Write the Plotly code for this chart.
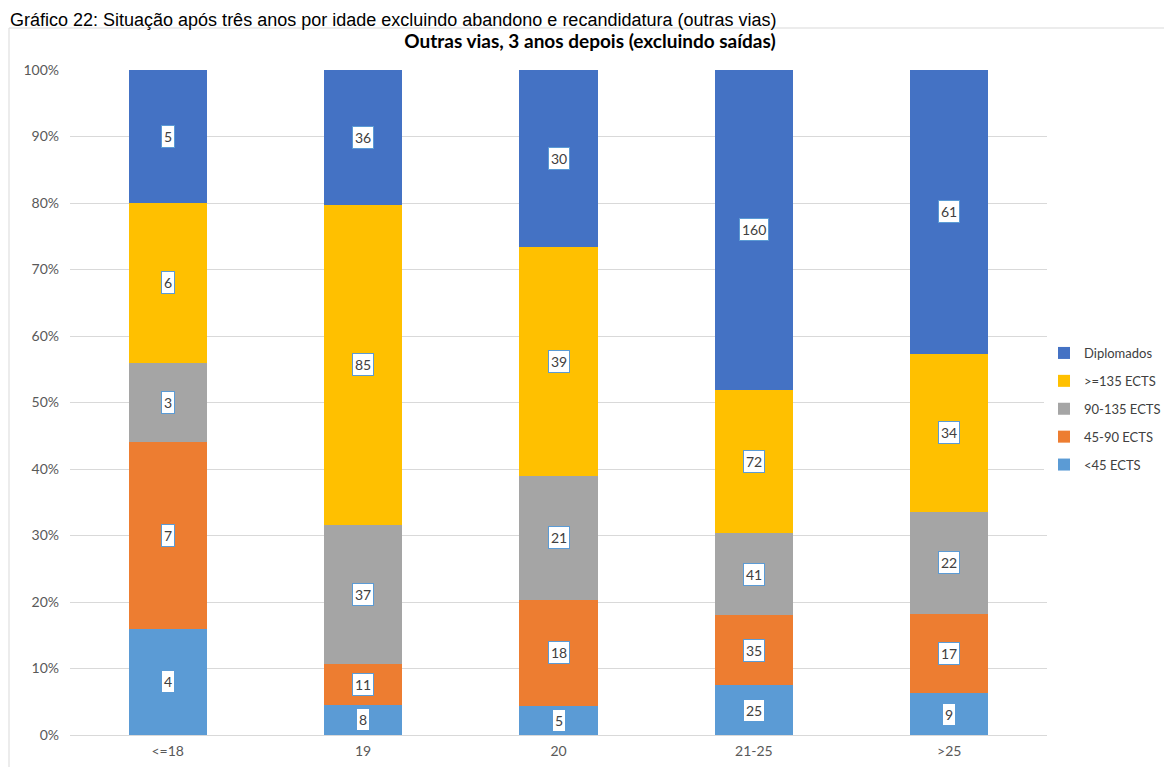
import plotly.graph_objects as go
import numpy as np

categories = ["<=18", "19", "20", "21-25", ">25"]

series_names = ["<45 ECTS", "45-90 ECTS", "90-135 ECTS", ">=135 ECTS", "Diplomados"]
lt45 = [4, 8, 5, 25, 9]
e45_90 = [7, 11, 18, 35, 17]
e90_135 = [3, 37, 21, 41, 22]
ge135 = [6, 85, 39, 72, 34]
diplomados = [5, 36, 30, 160, 61]

colors = ["#5B9BD5", "#ED7D31", "#A5A5A5", "#FFC000", "#4472C4"]

series = [lt45, e45_90, e90_135, ge135, diplomados]

font_main = "Lato, 'Open Sans', sans-serif"

# the page body adds an 8px offset, so the margins are set in figure pixels
L, R, T, B = 62, 133, 62, 40
W, H = 1172, 767
PW, PH = W - L - R, H - T - B

fig = go.Figure()
for i, (name, vals, col) in enumerate(zip(series_names, series, colors)):
    fig.add_trace(go.Bar(
        x=categories,
        y=vals,
        name=name,
        marker_color=col,
        marker_line_width=0,
        legendgroup=name,
        legendrank=len(series) - i,
    ))

# data labels in white boxes, placed at the middle of each segment
data = np.array(series, dtype=float)
totals = data.sum(axis=0)
pct = data / totals * 100
cum = np.cumsum(pct, axis=0)
mid = cum - pct / 2
annotations = []
for i in range(len(series)):
    for j in range(len(categories)):
        annotations.append(dict(
            x=j, y=mid[i, j], xref="x", yref="y",
            text=str(series[i][j]), showarrow=False,
            font=dict(family=font_main, size=14, color="#404040"),
            bgcolor="white", bordercolor="#5B9BD5", borderwidth=1, borderpad=2,
        ))

# caption at the very top of the picture
annotations.append(dict(
    x=-L / PW, y=(H - B) / PH, xref="paper", yref="paper",
    xanchor="left", yanchor="top", showarrow=False,
    text="Gráfico 22: Situação após três anos por idade excluindo abandono e recandidatura (outras vias)",
    font=dict(family="Liberation Sans, Arial, sans-serif", size=18, color="#000000"),
))

fig.update_layout(
    barmode="stack",
    barnorm="percent",
    bargap=0.6,
    width=W,
    height=H,
    margin=dict(l=L, r=R, t=T, b=B, autoexpand=False),
    paper_bgcolor="white",
    plot_bgcolor="white",
    font=dict(family=font_main, size=14, color="#595959"),
    title=dict(
        text="<b>Outras vias, 3 anos depois (excluindo saídas)</b>",
        x=582 / W, xanchor="center",
        y=1 - 33 / H, yanchor="middle",
        font=dict(family=font_main, size=19, color="#000000"),
    ),
    xaxis=dict(type="category", showgrid=False, showline=False, ticks="",
               tickfont=dict(size=14, color="#595959"), ticklabelstandoff=6),
    yaxis=dict(
        range=[0, 100], dtick=10, ticksuffix="%",
        showgrid=True, gridcolor="#D9D9D9", gridwidth=1,
        zeroline=True, zerolinecolor="#D9D9D9", zerolinewidth=1,
        tickfont=dict(size=14, color="#595959"),
        ticklabelstandoff=10,
    ),
    legend=dict(
        xref="container", x=1036 / W, xanchor="left",
        y=(H - B - 401) / PH, yanchor="middle",
        traceorder="grouped",
        tracegroupgap=8,
        font=dict(size=13, color="#404040"),
        itemwidth=30,
    ),
    annotations=annotations,
    shapes=[dict(
        type="rect", xref="paper", yref="paper",
        x0=(1 - L) / PW, x1=1.3, y0=-0.2, y1=(H - B - 20) / PH,
        line=dict(color="#D9D9D9", width=1), fillcolor="rgba(0,0,0,0)",
        layer="below",
    )],
)

fig.write_html("out.html")
